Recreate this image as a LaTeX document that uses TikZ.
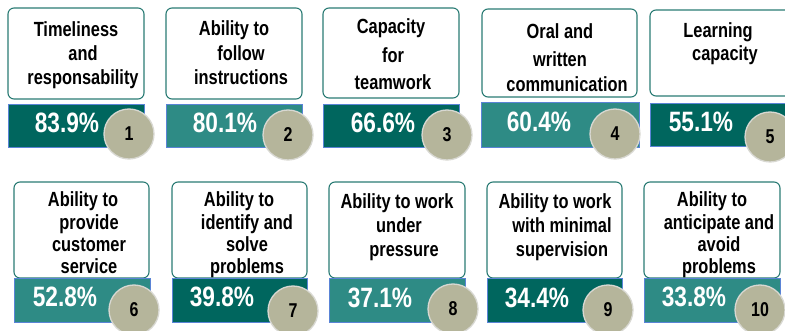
\documentclass[tikz,border=0pt]{standalone}
\usepackage{fontspec}
\newfontfamily\labfont[FakeStretch=0.8]{Liberation Sans}
\newfontfamily\pctfont[FakeStretch=0.81]{Liberation Sans}
\newfontfamily\numfont[FakeStretch=0.8]{Liberation Sans}
\definecolor{tdark}{HTML}{00665E}
\definecolor{tlight}{HTML}{2E8B85}
\definecolor{boxline}{HTML}{2A7B74}
\definecolor{barline}{HTML}{5A84D6}
\definecolor{circfill}{HTML}{B5B59B}
\definecolor{circline}{HTML}{D8D8D2}
\begin{document}
\begin{tikzpicture}[x=1pt,y=-1pt,
  lbox/.style={draw=boxline, line width=1.1pt, rounded corners=6pt, fill=white},
  bar/.style={draw=barline, line width=0.9pt},
  dark/.style={bar, fill=tdark},
  light/.style={bar, fill=tlight},
  lab/.style={font=\labfont\bfseries\fontsize{20.5}{24}\selectfont, anchor=base, inner sep=0pt, text=black},
  pct/.style={font=\pctfont\bfseries\fontsize{28}{30}\selectfont, anchor=base, inner sep=0pt, text=white},
  badge/.style={circle, fill=circfill, draw=circline, line width=1.3pt, minimum size=50pt, inner sep=0pt, font=\numfont\bfseries\fontsize{20}{22}\selectfont}]
\useasboundingbox (0,0) rectangle (785,331);
\clip (0,0) rectangle (785,331);

% ---------- top row ----------
\draw[lbox] (8,8) rectangle (144,99);
\draw[dark] (8,104) rectangle (144,147);
\draw[lbox] (166,8) rectangle (302,99);
\draw[light] (166,104) rectangle (302,147);
\draw[lbox] (323,8) rectangle (459,98);
\draw[dark] (323,104) rectangle (459,147);
\draw[lbox] (482,9) rectangle (637,97);
\draw[light] (481,102) rectangle (639,147);
\draw[lbox] (650,10) rectangle (795,96);
\draw[dark] (650,103) rectangle (790,146);

\node[lab] (t1a) at (76,37) {Timeliness};
\node[lab] (t1b) at (83,61) {and};
\node[lab] (t1c) at (83,85) {responsability};
\node[lab] (t2a) at (234,36) {Ability to};
\node[lab] (t2b) at (241,61) {follow};
\node[lab] (t2c) at (241,85) {instructions};
\node[lab] (t3a) at (391,34) {Capacity};
\node[lab] (t3b) at (393,63) {for};
\node[lab] (t3c) at (393,90) {teamwork};
\node[lab] (t4a) at (560,39) {Oral and};
\node[lab] (t4b) at (560,67) {written};
\node[lab] (t4c) at (567,92) {communication};
\node[lab] (t5a) at (718,38) {Learning};
\node[lab] (t5b) at (725,61) {capacity};

\node[pct] (p1) at (67,133) {83.9\%};
\node[pct] (p2) at (225,133) {80.1\%};
\node[pct] (p3) at (383,133) {66.6\%};
\node[pct] (p4) at (539,132) {60.4\%};
\node[pct] (p5) at (701,132) {55.1\%};

\node[badge] (n1) at (129,134) {1};
\node[badge] (n2) at (288,135) {2};
\node[badge] (n3) at (447,135) {3};
\node[badge] (n4) at (615,134) {4};
\node[badge] (n5) at (770,137) {5};

% ---------- bottom row ----------
\draw[lbox] (14,182) rectangle (149,278);
\draw[light] (14,278) rectangle (150,322);
\draw[lbox] (172,182) rectangle (307,278);
\draw[dark] (172,278) rectangle (307,322);
\draw[lbox] (329,182) rectangle (465,278);
\draw[light] (329,278) rectangle (465,322);
\draw[lbox] (487,182) rectangle (622,278);
\draw[dark] (487,278) rectangle (622,322);
\draw[lbox] (644,182) rectangle (780,278);
\draw[light] (644,278) rectangle (780,322);

\node[lab] (t6a) at (83,207) {Ability to};
\node[lab] (t6b) at (89,230) {provide};
\node[lab] (t6c) at (89,252) {customer};
\node[lab] (t6d) at (89,274) {service};
\node[lab] (t7a) at (239,207) {Ability to};
\node[lab] (t7b) at (247,230) {identify and};
\node[lab] (t7c) at (247,252) {solve};
\node[lab] (t7d) at (247,274) {problems};
\node[lab] (t8a) at (397,209) {Ability to work};
\node[lab] (t8b) at (399,233) {under};
\node[lab] (t8c) at (404,257) {pressure};
\node[lab] (t9a) at (555,209) {Ability to work};
\node[lab] (t9b) at (562,233) {with minimal};
\node[lab] (t9c) at (562,257) {supervision};
\node[lab] (t10a) at (712,207) {Ability to};
\node[lab] (t10b) at (719,230) {anticipate and};
\node[lab] (t10c) at (719,252) {avoid};
\node[lab] (t10d) at (719,274) {problems};

\node[pct] (p6) at (65,307) {52.8\%};
\node[pct] (p7) at (222,307) {39.8\%};
\node[pct] (p8) at (380,308) {37.1\%};
\node[pct] (p9) at (537,308) {34.4\%};
\node[pct] (p10) at (694,307) {33.8\%};

\node[badge] (n6) at (134,310) {6};
\node[badge] (n7) at (293,311) {7};
\node[badge] (n8) at (453,309) {8};
\node[badge] (n9) at (608,310) {9};
\node[badge] (n10) at (760,310) {10};
\end{tikzpicture}
\end{document}
